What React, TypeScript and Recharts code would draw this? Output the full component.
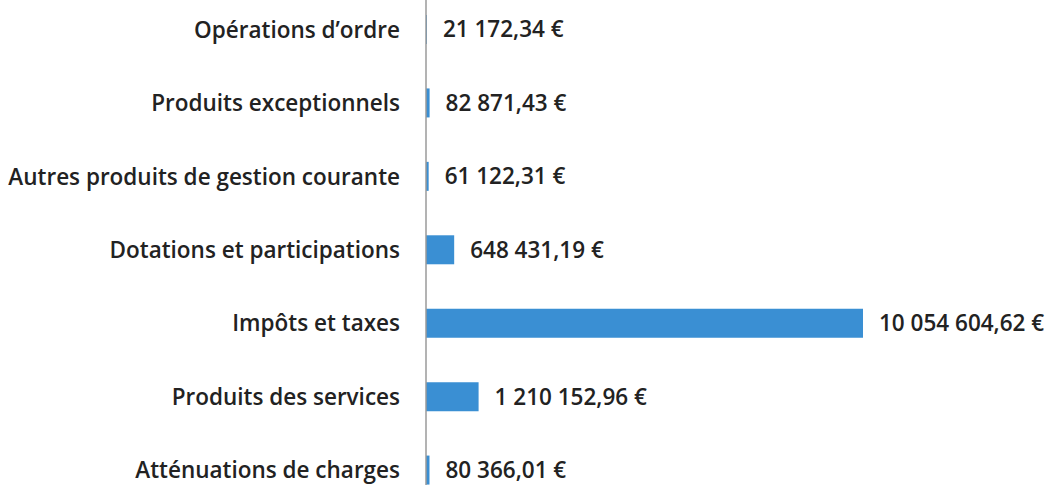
import { BarChart, Bar, XAxis, YAxis, LabelList } from "recharts";

const categories = [
  "Opérations d’ordre",
  "Produits exceptionnels",
  "Autres produits de gestion courante",
  "Dotations et participations",
  "Impôts et taxes",
  "Produits des services",
  "Atténuations de charges",
];

const amounts = [21172.34, 82871.43, 61122.31, 648431.19, 10054604.62, 1210152.96, 80366.01];

const data = categories.map((name, i) => ({ name, value: amounts[i] }));

const FONT = "'Open Sans', sans-serif";
const TEXT = "#222222";

function euro(v: number) {
  const [int, dec] = v.toFixed(2).split(".");
  const grouped = int.replace(/\B(?=(\d{3})+(?!\d))/g, " ");
  return `${grouped},${dec} €`;
}

export default function App() {
  return (
    <div
      style={{
        position: "fixed",
        left: 0,
        top: 0,
        width: 1056,
        height: 485,
        overflow: "hidden",
        background: "#fff",
      }}
    >
      <div style={{ position: "absolute", left: 0, top: -7 }}>
        <BarChart
          width={1056}
          height={514}
          data={data}
          layout="vertical"
          margin={{ top: 0, right: 193, bottom: 0, left: 0 }}
        >
          <XAxis type="number" hide domain={[0, 10054604.62]} />
          <YAxis
            type="category"
            dataKey="name"
            width={426}
            tickLine={false}
            tickSize={0}
            tickMargin={26}
            axisLine={{ stroke: "#9a9a9a", strokeWidth: 1.5 }}
            tick={{ fill: TEXT, fontSize: 22.5, fontFamily: FONT, fontWeight: 600 }}
            interval={0}
          />
          <Bar dataKey="value" fill="#3a8fd3" barSize={29} isAnimationActive={false}>
            <LabelList
              dataKey="value"
              position="right"
              offset={16}
              formatter={(v: any) => euro(Number(v))}
              style={{ fill: TEXT, fontSize: 22.5, fontFamily: FONT, fontWeight: 600 }}
            />
          </Bar>
        </BarChart>
      </div>
    </div>
  );
}
